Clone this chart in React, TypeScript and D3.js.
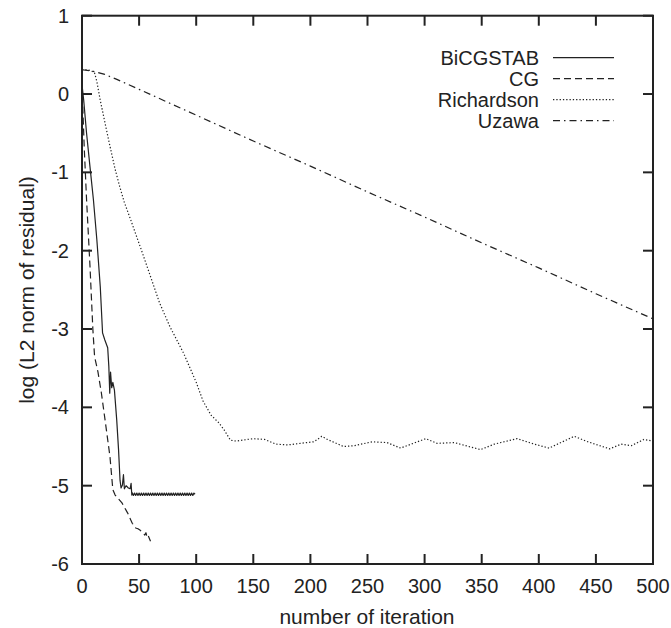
import React from "react";
import * as d3 from "d3";

const xTicks = [0, 50, 100, 150, 200, 250, 300, 350, 400, 450, 500];
const yTicks = [1, 0, -1, -2, -3, -4, -5, -6];
const seriesNames = ["BiCGSTAB", "CG", "Richardson", "Uzawa"];

const bicgstab: [number, number][] = [
  [0, 0.12], [1.5, -0.08], [4, -0.5], [7, -0.93], [10, -1.35], [13, -1.86], [16, -2.46],
  [18, -3.05], [20, -3.14], [22.5, -3.24], [23.5, -3.48], [24.3, -3.82], [25, -3.55],
  [26, -3.75], [27, -3.68], [28.4, -3.78], [30.4, -4.16], [32, -4.54], [33.3, -4.93],
  [34.2, -5.03], [35.4, -4.99], [36.3, -4.86], [37.1, -5.04], [38.6, -5.0], [40.6, -5.03],
  [42.1, -5.04], [43, -4.97], [43.6, -5.12],
  [44, -5.09], [45, -5.125], [46, -5.095], [47, -5.125], [48, -5.095], [49, -5.125],
  [50, -5.095], [51, -5.125], [52, -5.095], [53, -5.125], [54, -5.095], [55, -5.125],
  [56, -5.095], [57, -5.125], [58, -5.095], [59, -5.125], [60, -5.095], [61, -5.125],
  [62, -5.095], [63, -5.125], [64, -5.095], [65, -5.125], [66, -5.095], [67, -5.125],
  [68, -5.095], [69, -5.125], [70, -5.095], [71, -5.125], [72, -5.095], [73, -5.125],
  [74, -5.095], [75, -5.125], [76, -5.095], [77, -5.125], [78, -5.095], [79, -5.125],
  [80, -5.095], [81, -5.125], [82, -5.095], [83, -5.125], [84, -5.095], [85, -5.125],
  [86, -5.095], [87, -5.125], [88, -5.095], [89, -5.125], [90, -5.095], [91, -5.125],
  [92, -5.095], [93, -5.125], [94, -5.095], [95, -5.125], [96, -5.095], [97, -5.125],
  [98, -5.095], [99, -5.11],
];

const cg: [number, number][] = [
  [0, 0.12], [1, -0.3], [2, -0.7], [4, -1.35], [7, -2.2], [9.5, -3.0], [11, -3.35],
  [14, -3.55], [17, -3.82], [20, -4.14], [24.5, -4.63], [27, -5.05], [29, -5.12],
  [35, -5.22], [40, -5.35], [44, -5.48], [47, -5.54], [49, -5.55], [51, -5.57],
  [53, -5.6], [55, -5.63], [56, -5.6], [57, -5.66], [58, -5.64], [60, -5.71],
];

const richardson: [number, number][] = [
  [0, 0.31], [4, 0.31], [8, 0.3], [11, 0.27], [13, 0.16], [16, -0.08], [20, -0.36],
  [25, -0.7], [29, -0.96], [33, -1.18], [37, -1.38], [42, -1.58], [51, -1.95],
  [60, -2.33], [68, -2.67], [77, -2.97], [89, -3.31], [100, -3.68], [106, -3.92],
  [113, -4.1], [120, -4.2], [125, -4.3], [130, -4.42], [135, -4.43], [150, -4.4],
  [160, -4.41], [170, -4.47], [180, -4.48], [191, -4.46], [203, -4.44], [210, -4.37],
  [215, -4.41], [229, -4.5], [238, -4.49], [254, -4.44], [267, -4.45], [279, -4.52],
  [301, -4.4], [311, -4.46], [326, -4.45], [349, -4.54], [361, -4.47], [381, -4.4],
  [396, -4.47], [409, -4.52], [431, -4.37], [443, -4.44], [462, -4.53], [472, -4.47],
  [481, -4.49], [492, -4.41], [500, -4.43],
];

const uzawa: [number, number][] = [
  [0, 0.31], [10, 0.29], [20, 0.25], [30, 0.19], [50, 0.06], [100, -0.27],
  [150, -0.6], [200, -0.92], [250, -1.25], [300, -1.57], [350, -1.9], [400, -2.22],
  [450, -2.55], [500, -2.87],
];

const seriesData = [bicgstab, cg, richardson, uzawa];
const dashes = ["none", "7,4", "1.3,2", "7,4,1.5,4"];

export default function App() {
  const W = 671, H = 628;
  const x = d3.scaleLinear().domain([0, 500]).range([82, 653]);
  const y = d3.scaleLinear().domain([-6, 1]).range([564, 15.7]);
  const line = d3.line<[number, number]>().x(d => x(d[0])).y(d => y(d[1]));
  const ink = "#222";
  const font = "'Liberation Sans', Arial, Helvetica, sans-serif";
  const tickLen = 10;
  return (
    <svg width={W} height={H} style={{ position: "absolute", left: 0, top: 0, background: "#fff" }} fontFamily={font}>
      <rect x={0} y={0} width={W} height={H} fill="#fff" />
      {seriesData.map((s, i) => (
        <path key={i} d={line(s) || ""} fill="none" stroke={ink} strokeWidth={1.2}
          strokeDasharray={dashes[i]} strokeLinejoin="round" />
      ))}
      {/* frame */}
      <rect x={x(0)} y={y(1)} width={x(500) - x(0)} height={y(-6) - y(1)} fill="none" stroke={ink} strokeWidth={2} />
      {xTicks.map(t => (
        <g key={"x" + t}>
          <line x1={x(t)} x2={x(t)} y1={y(-6)} y2={y(-6) - tickLen} stroke={ink} strokeWidth={2} />
          <line x1={x(t)} x2={x(t)} y1={y(1)} y2={y(1) + tickLen} stroke={ink} strokeWidth={2} />
          <text x={x(t)} y={593} textAnchor="middle" fontSize={20} fill={ink}>{t}</text>
        </g>
      ))}
      {yTicks.map(t => (
        <g key={"y" + t}>
          <line x1={x(0)} x2={x(0) + tickLen} y1={y(t)} y2={y(t)} stroke={ink} strokeWidth={2} />
          <line x1={x(500)} x2={x(500) - tickLen} y1={y(t)} y2={y(t)} stroke={ink} strokeWidth={2} />
          <text x={69} y={y(t) + 7} textAnchor="end" fontSize={20} fill={ink}>{t}</text>
        </g>
      ))}
      <text x={367} y={624} textAnchor="middle" fontSize={21} fill={ink}>number of iteration</text>
      <text transform="translate(34,290) rotate(-90)" textAnchor="middle" fontSize={21} fill={ink}>log (L2 norm of residual)</text>
      {seriesNames.map((n, i) => {
        const ly = 57.7 + i * 21;
        return (
          <g key={n}>
            <text x={539} y={ly + 7} textAnchor="end" fontSize={20} fill={ink}>{n}</text>
            <line x1={553} x2={614} y1={ly} y2={ly} stroke={ink} strokeWidth={1.2} strokeDasharray={dashes[i]} />
          </g>
        );
      })}
    </svg>
  );
}
